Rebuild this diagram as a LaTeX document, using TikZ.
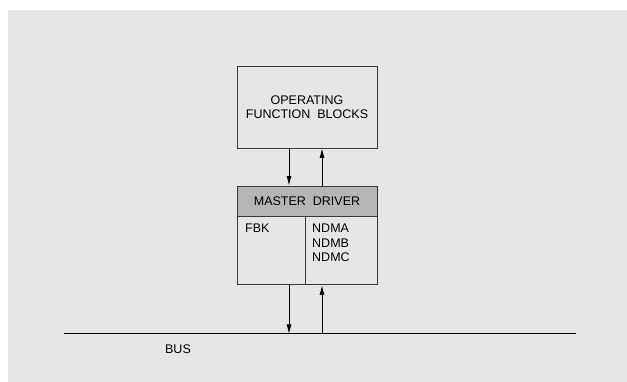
\documentclass[tikz,border=0pt]{standalone}
\usepackage{fontspec}
\setmainfont{Liberation Sans}
\usepackage{tikz}
\usetikzlibrary{arrows.meta,positioning,calc}
\definecolor{PanelGrey}{HTML}{E6E6E6}
\definecolor{HeadGrey}{HTML}{B5B5B5}
\definecolor{EdgeGrey}{HTML}{3A3A3A}

\begin{document}
\begin{tikzpicture}[x=1pt,y=-1pt, every node/.style={font=\fontsize{12.5}{14.5}\selectfont},
  blk/.style={draw=EdgeGrey,line width=0.9pt,minimum width=140pt,inner sep=0pt},
  arr/.style={line width=0.9pt,-{Latex[length=9.5pt,width=5pt]}}]
  \useasboundingbox (0,0) rectangle (627,382);
  \fill[PanelGrey] (8,10) rectangle (627,382);
  \node[blk,minimum height=82pt,align=center] (ops) at (307,107) {OPERATING\\FUNCTION\ \ BLOCKS};
  \node[blk,fill=HeadGrey,minimum height=30pt] (hdr) at (307,201) {MASTER\ \ DRIVER};
  \node[blk,minimum height=68pt,below=0pt of hdr] (body) {};
  \draw[EdgeGrey,line width=0.9pt] (305,216)--(305,284);
  \node[anchor=north west,inner sep=0pt] (fbk) at (245,224) {FBK};
  \node[anchor=north west,inner sep=0pt,align=left] (ndm) at (312,224) {NDMA\\NDMB\\NDMC};
  \coordinate (busL) at (64,334);
  \coordinate (busR) at (576,334);
  \draw[line width=1pt] (busL)--(busR);
  \node (bus) at (178,349) {BUS};
  \coordinate (dn) at (289,0);
  \coordinate (up) at (322,0);
  \draw[arr] (dn |- ops.south)--(dn |- hdr.north);
  \draw[arr] (up |- hdr.north)--(up |- ops.south);
  \draw[arr] (dn |- body.south)--(dn |- busL);
  \draw[arr] (up |- busL)--(up |- body.south);
\end{tikzpicture}
\end{document}
